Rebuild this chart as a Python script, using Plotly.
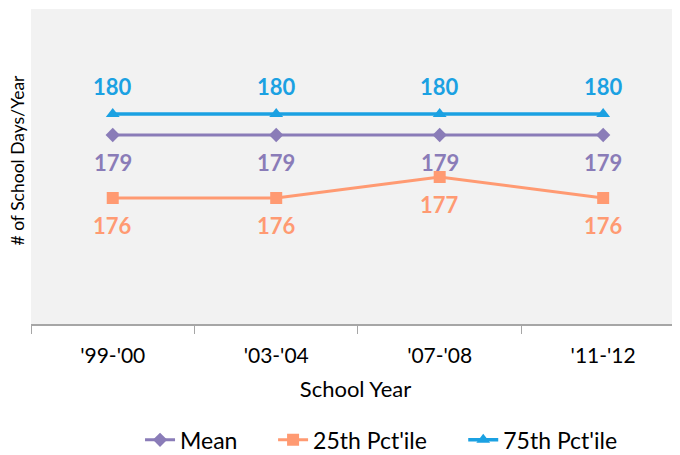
import plotly.graph_objects as go

years = ["'99-'00", "'03-'04", "'07-'08", "'11-'12"]
mean_vals = [179, 179, 179, 179]
p25_vals = [176, 176, 177, 176]
p75_vals = [180, 180, 180, 180]

FONT = "Lato, Carlito, Calibri, sans-serif"
C_MEAN = "#8A7CB8"
C_P25 = "#FF9A72"
C_P75 = "#1BA1E2"

fig = go.Figure()
fig.add_trace(go.Scatter(x=years, y=mean_vals, name="Mean", mode="lines+markers",
                         line=dict(color=C_MEAN, width=3), legend="legend",
                         marker=dict(symbol="diamond", size=11, color=C_MEAN)))
fig.add_trace(go.Scatter(x=years, y=p25_vals, name="25th Pct'ile", mode="lines+markers",
                         line=dict(color=C_P25, width=3), legend="legend2",
                         marker=dict(symbol="square", size=12, color=C_P25)))
fig.add_trace(go.Scatter(x=years, y=p75_vals, name="75th Pct'ile", mode="lines+markers",
                         line=dict(color=C_P75, width=3.5), legend="legend3",
                         marker=dict(symbol="triangle-up", size=12, color=C_P75)))

for xv, v in zip(years, p75_vals):
    fig.add_annotation(x=xv, y=v, text=str(v), showarrow=False, yshift=28,
                       font=dict(family=FONT, size=22, color=C_P75, weight="bold"))
for xv, v in zip(years, mean_vals):
    fig.add_annotation(x=xv, y=v, text=str(v), showarrow=False, yshift=-27,
                       font=dict(family=FONT, size=22, color=C_MEAN, weight="bold"))
for xv, v in zip(years, p25_vals):
    fig.add_annotation(x=xv, y=v, text=str(v), showarrow=False, yshift=-27,
                       font=dict(family=FONT, size=22, color=C_P25, weight="bold"))

# y-axis title
fig.add_annotation(xref="paper", yref="paper", x=0, y=0.5, xshift=-14, yshift=6,
                   xanchor="center", yanchor="middle",
                   text="# of School Days/Year", textangle=-90, showarrow=False,
                   font=dict(family=FONT, size=17.5, color="black"))

leg_common = dict(orientation="h", yref="paper", xref="paper", xanchor="left",
                  y=-0.368, yanchor="middle", font=dict(family=FONT, size=23),
                  itemwidth=30, bgcolor="rgba(0,0,0,0)")

# page body has an 8px default margin, so the figure is sized to fit the window
fig.update_layout(
    width=672, height=447,
    margin=dict(l=23, r=0, t=1, b=131, autoexpand=False),
    paper_bgcolor="white", plot_bgcolor="#F2F2F2",
    font=dict(family=FONT, color="black"),
    showlegend=True,
    legend=dict(leg_common, x=0.168),
    legend2=dict(leg_common, x=0.373),
    legend3=dict(leg_common, x=0.666),
    xaxis=dict(range=[-0.5, 3.47], showgrid=False, showline=True, linecolor="#A6A6A6",
               linewidth=1.5, ticks="outside", tickson="boundaries", ticklen=8,
               tickcolor="#A6A6A6", tickfont=dict(family=FONT, size=21),
               ticklabelstandoff=12, automargin=False,
               title=dict(text="School Year", font=dict(family=FONT, size=22), standoff=16)),
    yaxis=dict(range=[170, 185], showgrid=False, showline=False, showticklabels=False,
               zeroline=False, ticks="", automargin=False),
)

fig.write_html("out.html")
